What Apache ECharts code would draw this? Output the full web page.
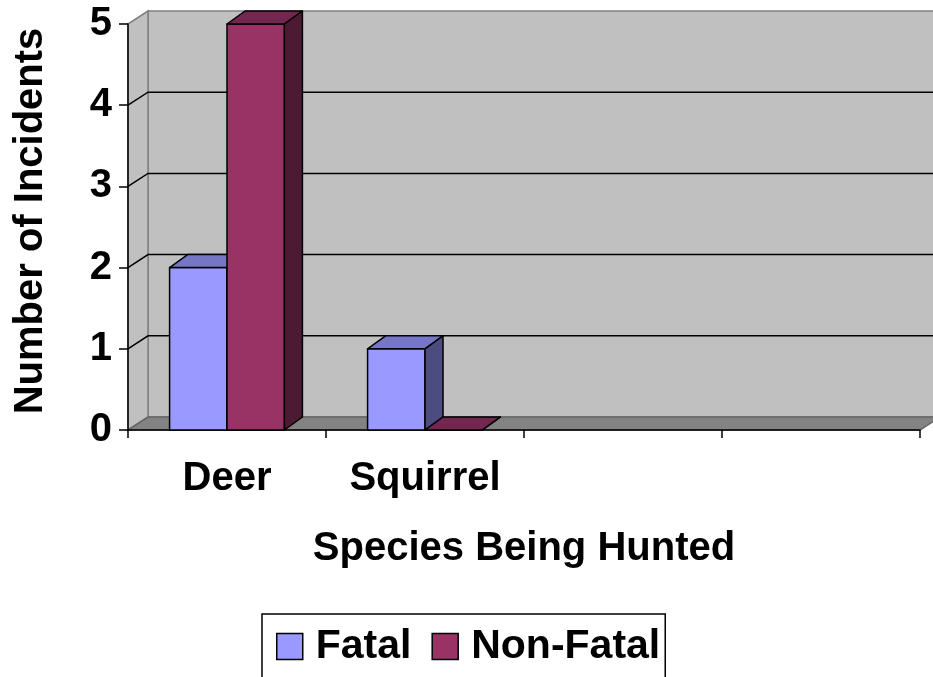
<!DOCTYPE html>
<html>
<head>
<meta charset="utf-8">
<title>Hunting incidents by species</title>
<script src="https://cdn.jsdelivr.net/npm/echarts@6/dist/echarts.min.js"></script>
<style>
  html, body { margin: 0; padding: 0; background: #fff; }
  #chart { width: 933px; height: 677px; }
</style>
</head>
<body>
<div id="chart"></div>
<script>
// data
var categories = ['Deer', 'Squirrel', '', ''];
var fatal = [2, 1, null, null];
var nonFatal = [5, 0, null, null];
var yTicks = [0, 1, 2, 3, 4, 5];

var FONT = '"Liberation Sans", Arial, sans-serif';
var WALL_DEPTH = [20, -13]; // back wall offset from the front plane
var BAR_DEPTH = [18, -13];  // bar depth offset

function toItems(values) {
    var out = [];
    values.forEach(function (v, i) {
        if (v !== null) out.push([i, v]);
    });
    return out;
}

// walls + floor + gridlines behind the bars
function renderWalls(params, api) {
    var cs = params.coordSys;
    var dx = WALL_DEPTH[0], dy = WALL_DEPTH[1];
    var left = cs.x, right = cs.x + cs.width;
    var yBot = api.coord([0, yTicks[0]])[1];
    var yTop = api.coord([0, yTicks[yTicks.length - 1]])[1];
    var kids = [];

    // back wall
    kids.push({
        type: 'polygon',
        shape: { points: [[left + dx, yTop + dy], [right + dx, yTop + dy], [right + dx, yBot + dy], [left + dx, yBot + dy]] },
        style: { fill: '#C0C0C0', stroke: '#808080', lineWidth: 1.5 }
    });
    // left wall
    kids.push({
        type: 'polygon',
        shape: { points: [[left, yBot], [left + dx, yBot + dy], [left + dx, yTop + dy], [left, yTop]] },
        style: { fill: '#C0C0C0', stroke: '#808080', lineWidth: 1.5 }
    });
    // floor
    kids.push({
        type: 'polygon',
        shape: { points: [[left, yBot], [right, yBot], [right + dx, yBot + dy], [left + dx, yBot + dy]] },
        style: { fill: '#838383', stroke: '#666', lineWidth: 1.5 }
    });

    // gridlines on the walls (inner ticks only)
    yTicks.slice(1, -1).forEach(function (v) {
        var y = api.coord([0, v])[1];
        kids.push({
            type: 'polyline',
            shape: { points: [[left, y], [left + dx, y + dy], [right + dx, y + dy]] },
            style: { fill: null, stroke: '#000', lineWidth: 1.5 }
        });
    });

    return { type: 'group', children: kids };
}

// 3D looking bar: side = -1 bar sits left of the category centre, +1 right
function makeBar(side, front, top, dark) {
    return function (params, api) {
        var cat = api.value(0), val = api.value(1);
        var base = api.coord([cat, 0]);
        var tip = api.coord([cat, val]);
        var bw = api.size([1, 0])[0] * 0.29;
        var dx = BAR_DEPTH[0], dy = BAR_DEPTH[1];
        var xl = side < 0 ? base[0] - bw : base[0];
        var xr = xl + bw;
        var yb = base[1], yt = tip[1];
        var line = { stroke: '#000', lineWidth: 1.5, lineJoin: 'round' };

        return {
            type: 'group',
            children: [{
                type: 'rect',
                shape: { x: xl, y: yt, width: bw, height: yb - yt },
                style: Object.assign({ fill: front }, line)
            }, {
                type: 'polygon',
                shape: { points: [[xl, yt], [xr, yt], [xr + dx, yt + dy], [xl + dx, yt + dy]] },
                style: Object.assign({ fill: top }, line)
            }, {
                type: 'polygon',
                shape: { points: [[xr, yt], [xr + dx, yt + dy], [xr + dx, yb + dy], [xr, yb]] },
                style: Object.assign({ fill: dark }, line)
            }]
        };
    };
}

var option = {
    backgroundColor: '#fff',
    animation: false,
    textStyle: { fontFamily: FONT },
    grid: {
        left: 128,
        right: 13,
        top: 24,
        bottom: 247
    },
    legend: {
        left: 262,
        top: 614,
        orient: 'horizontal',
        borderColor: '#000',
        borderWidth: 1.5,
        padding: [12, 5, 30, 14],
        itemWidth: 26,
        itemHeight: 26,
        itemGap: 20,
        textStyle: {
            fontFamily: FONT,
            fontWeight: 'bold',
            fontSize: 41,
            color: '#000',
            padding: [0, 0, 0, 8]
        },
        data: [{
            name: 'Fatal',
            icon: 'rect',
            itemStyle: { color: '#9999FF', borderColor: '#000', borderWidth: 1.5 }
        }, {
            name: 'Non-Fatal',
            icon: 'rect',
            itemStyle: { color: '#993366', borderColor: '#000', borderWidth: 1.5 }
        }]
    },
    xAxis: {
        type: 'category',
        data: categories,
        boundaryGap: true,
        name: 'Species Being Hunted',
        nameLocation: 'middle',
        nameGap: 99,
        nameTextStyle: { fontFamily: FONT, fontWeight: 'bold', fontSize: 40, color: '#000' },
        axisLine: { lineStyle: { color: '#000', width: 1.5 } },
        axisTick: { show: true, length: 8, lineStyle: { color: '#000', width: 1.5 } },
        axisLabel: {
            interval: 0,
            margin: 29,
            fontFamily: FONT,
            fontWeight: 'bold',
            fontSize: 40,
            color: '#000'
        },
        splitLine: { show: false }
    },
    yAxis: {
        type: 'value',
        min: 0,
        max: 5,
        interval: 1,
        name: 'Number of Incidents',
        nameLocation: 'middle',
        nameRotate: 90,
        nameGap: 77,
        nameTextStyle: {
            fontFamily: FONT,
            fontWeight: 'bold',
            fontSize: 40,
            color: '#000',
            padding: [0, 0, 0, 12]
        },
        axisLine: { show: true, lineStyle: { color: '#000', width: 1.5 } },
        axisTick: { show: true, length: 9, lineStyle: { color: '#000', width: 1.5 } },
        axisLabel: {
            margin: 16,
            fontFamily: FONT,
            fontWeight: 'bold',
            fontSize: 40,
            color: '#000'
        },
        splitLine: { show: false }
    },
    series: [{
        name: 'walls',
        type: 'custom',
        z: -1,
        silent: true,
        renderItem: renderWalls,
        data: [[0, 0]]
    }, {
        name: 'Fatal',
        type: 'custom',
        itemStyle: { color: '#9999FF' },
        renderItem: makeBar(-1, '#9999FF', '#7676C6', '#4C4C80'),
        data: toItems(fatal)
    }, {
        name: 'Non-Fatal',
        type: 'custom',
        itemStyle: { color: '#993366' },
        renderItem: makeBar(1, '#993366', '#732650', '#4D1A33'),
        data: toItems(nonFatal)
    }]
};

var chart = echarts.init(document.getElementById('chart'));
chart.setOption(option);
</script>
</body>
</html>
